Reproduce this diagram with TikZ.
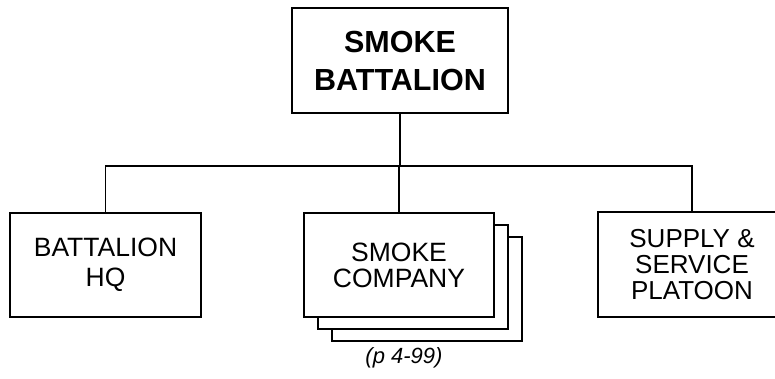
\documentclass[tikz,border=0pt]{standalone}
\usepackage{fontspec}
\setmainfont{Liberation Sans}
\begin{document}
\begin{tikzpicture}[x=1pt,y=-1pt,
  unitbox/.style={draw=black,line width=1.6pt,fill=white,rectangle,inner sep=0pt,align=center,minimum width=190pt,minimum height=104pt},
  wire/.style={line width=1.5pt}]
\clip (0,0) rectangle (775,378);
\useasboundingbox (0,0) rectangle (775,378);
\node[unitbox,minimum width=216pt,minimum height=105pt,font=\fontsize{30.5}{38}\selectfont\bfseries] (top) at (400,60.5) {SMOKE\\BATTALION};
\node[unitbox,minimum width=191pt,font=\fontsize{26.5}{30}\selectfont] (hq) at (105.5,265) {BATTALION\\HQ};
\node[unitbox] (comp3) at (427,289) {};
\node[unitbox] (comp2) at (413,277) {};
\node[unitbox,font=\fontsize{26.5}{26}\selectfont] (comp) at (399,265) {SMOKE\\COMPANY};
\node[unitbox,minimum width=188pt,minimum height=105pt,font=\fontsize{26}{26}\selectfont] (sup) at (692,264.5) {SUPPLY \&\\SERVICE\\PLATOON};
\node[font=\fontsize{22}{26}\selectfont\itshape,inner sep=0pt] (cap) at (404,358) {(p 4-99)};
\coordinate (bus) at (400,166);
\draw[wire] (top.south) -- (bus);
\draw[wire] (hq.north) |- (bus) -| (sup.north);
\draw[wire] (bus) -| (comp.north);
\end{tikzpicture}
\end{document}
